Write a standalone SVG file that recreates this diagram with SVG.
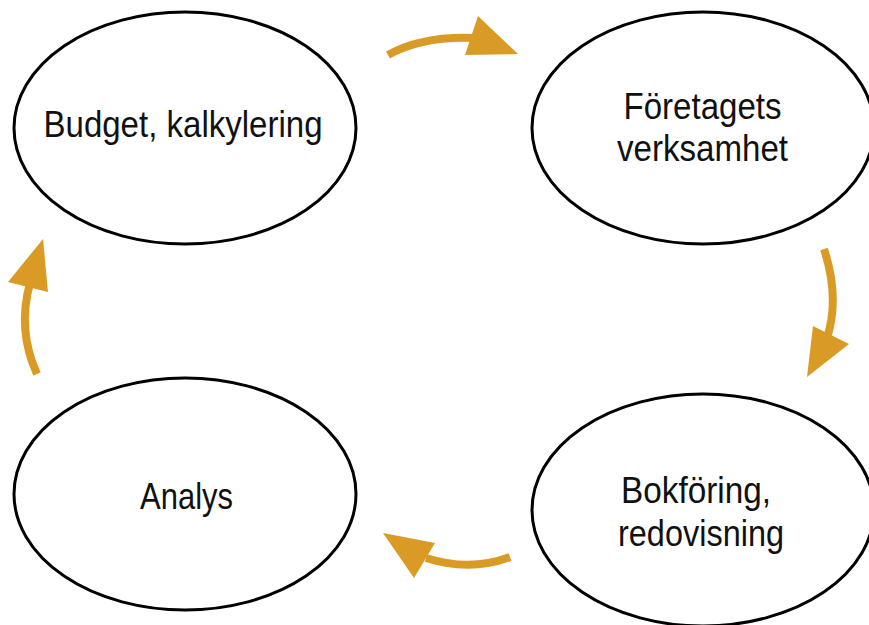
<svg xmlns="http://www.w3.org/2000/svg" width="869" height="625" viewBox="0 0 869 625">
<style>
.node ellipse{fill:#fff;stroke:#000;stroke-width:3}
.node text{font-family:"Liberation Sans","DejaVu Sans",sans-serif;font-size:37px;fill:#111;text-anchor:middle}
.shaft{fill:none;stroke:#D99B26;stroke-width:8}
.head{fill:#D99B26}
</style>
<rect width="869" height="625" fill="#fff"/>
<g id="budget" class="node">
<ellipse cx="185" cy="128" rx="171" ry="116"/>
<text x="183" y="137" textLength="279" lengthAdjust="spacingAndGlyphs">Budget, kalkylering</text>
</g>
<g id="foretagets" class="node">
<ellipse cx="703" cy="128" rx="171" ry="116"/>
<text x="702.5" y="119" textLength="158" lengthAdjust="spacingAndGlyphs">Företagets</text>
<text x="702.5" y="161" textLength="171" lengthAdjust="spacingAndGlyphs">verksamhet</text>
</g>
<g id="bokforing" class="node">
<ellipse cx="703" cy="510" rx="171" ry="116"/>
<text x="696" y="503" textLength="150" lengthAdjust="spacingAndGlyphs">Bokföring,</text>
<text x="701" y="546" textLength="166" lengthAdjust="spacingAndGlyphs">redovisning</text>
</g>
<g id="analys" class="node">
<ellipse cx="185" cy="494" rx="171" ry="116"/>
<text x="186.5" y="509" textLength="93" lengthAdjust="spacingAndGlyphs">Analys</text>
</g>
<g id="connectors">
<path class="shaft" d="M388,55 Q422,36 474,38"/>
<polygon class="head" points="478,16 518,54 465,55"/>
<path class="shaft" d="M824,249 Q840,298 827,338"/>
<polygon class="head" points="813,326 849,344 807,377"/>
<path class="shaft" d="M510,557 Q470,572 426,558"/>
<polygon class="head" points="383,533 435,543 414,578"/>
<path class="shaft" d="M37,374 Q17,330 30,283"/>
<polygon class="head" points="43,239 8,282 48,292"/>
</g>
</svg>
